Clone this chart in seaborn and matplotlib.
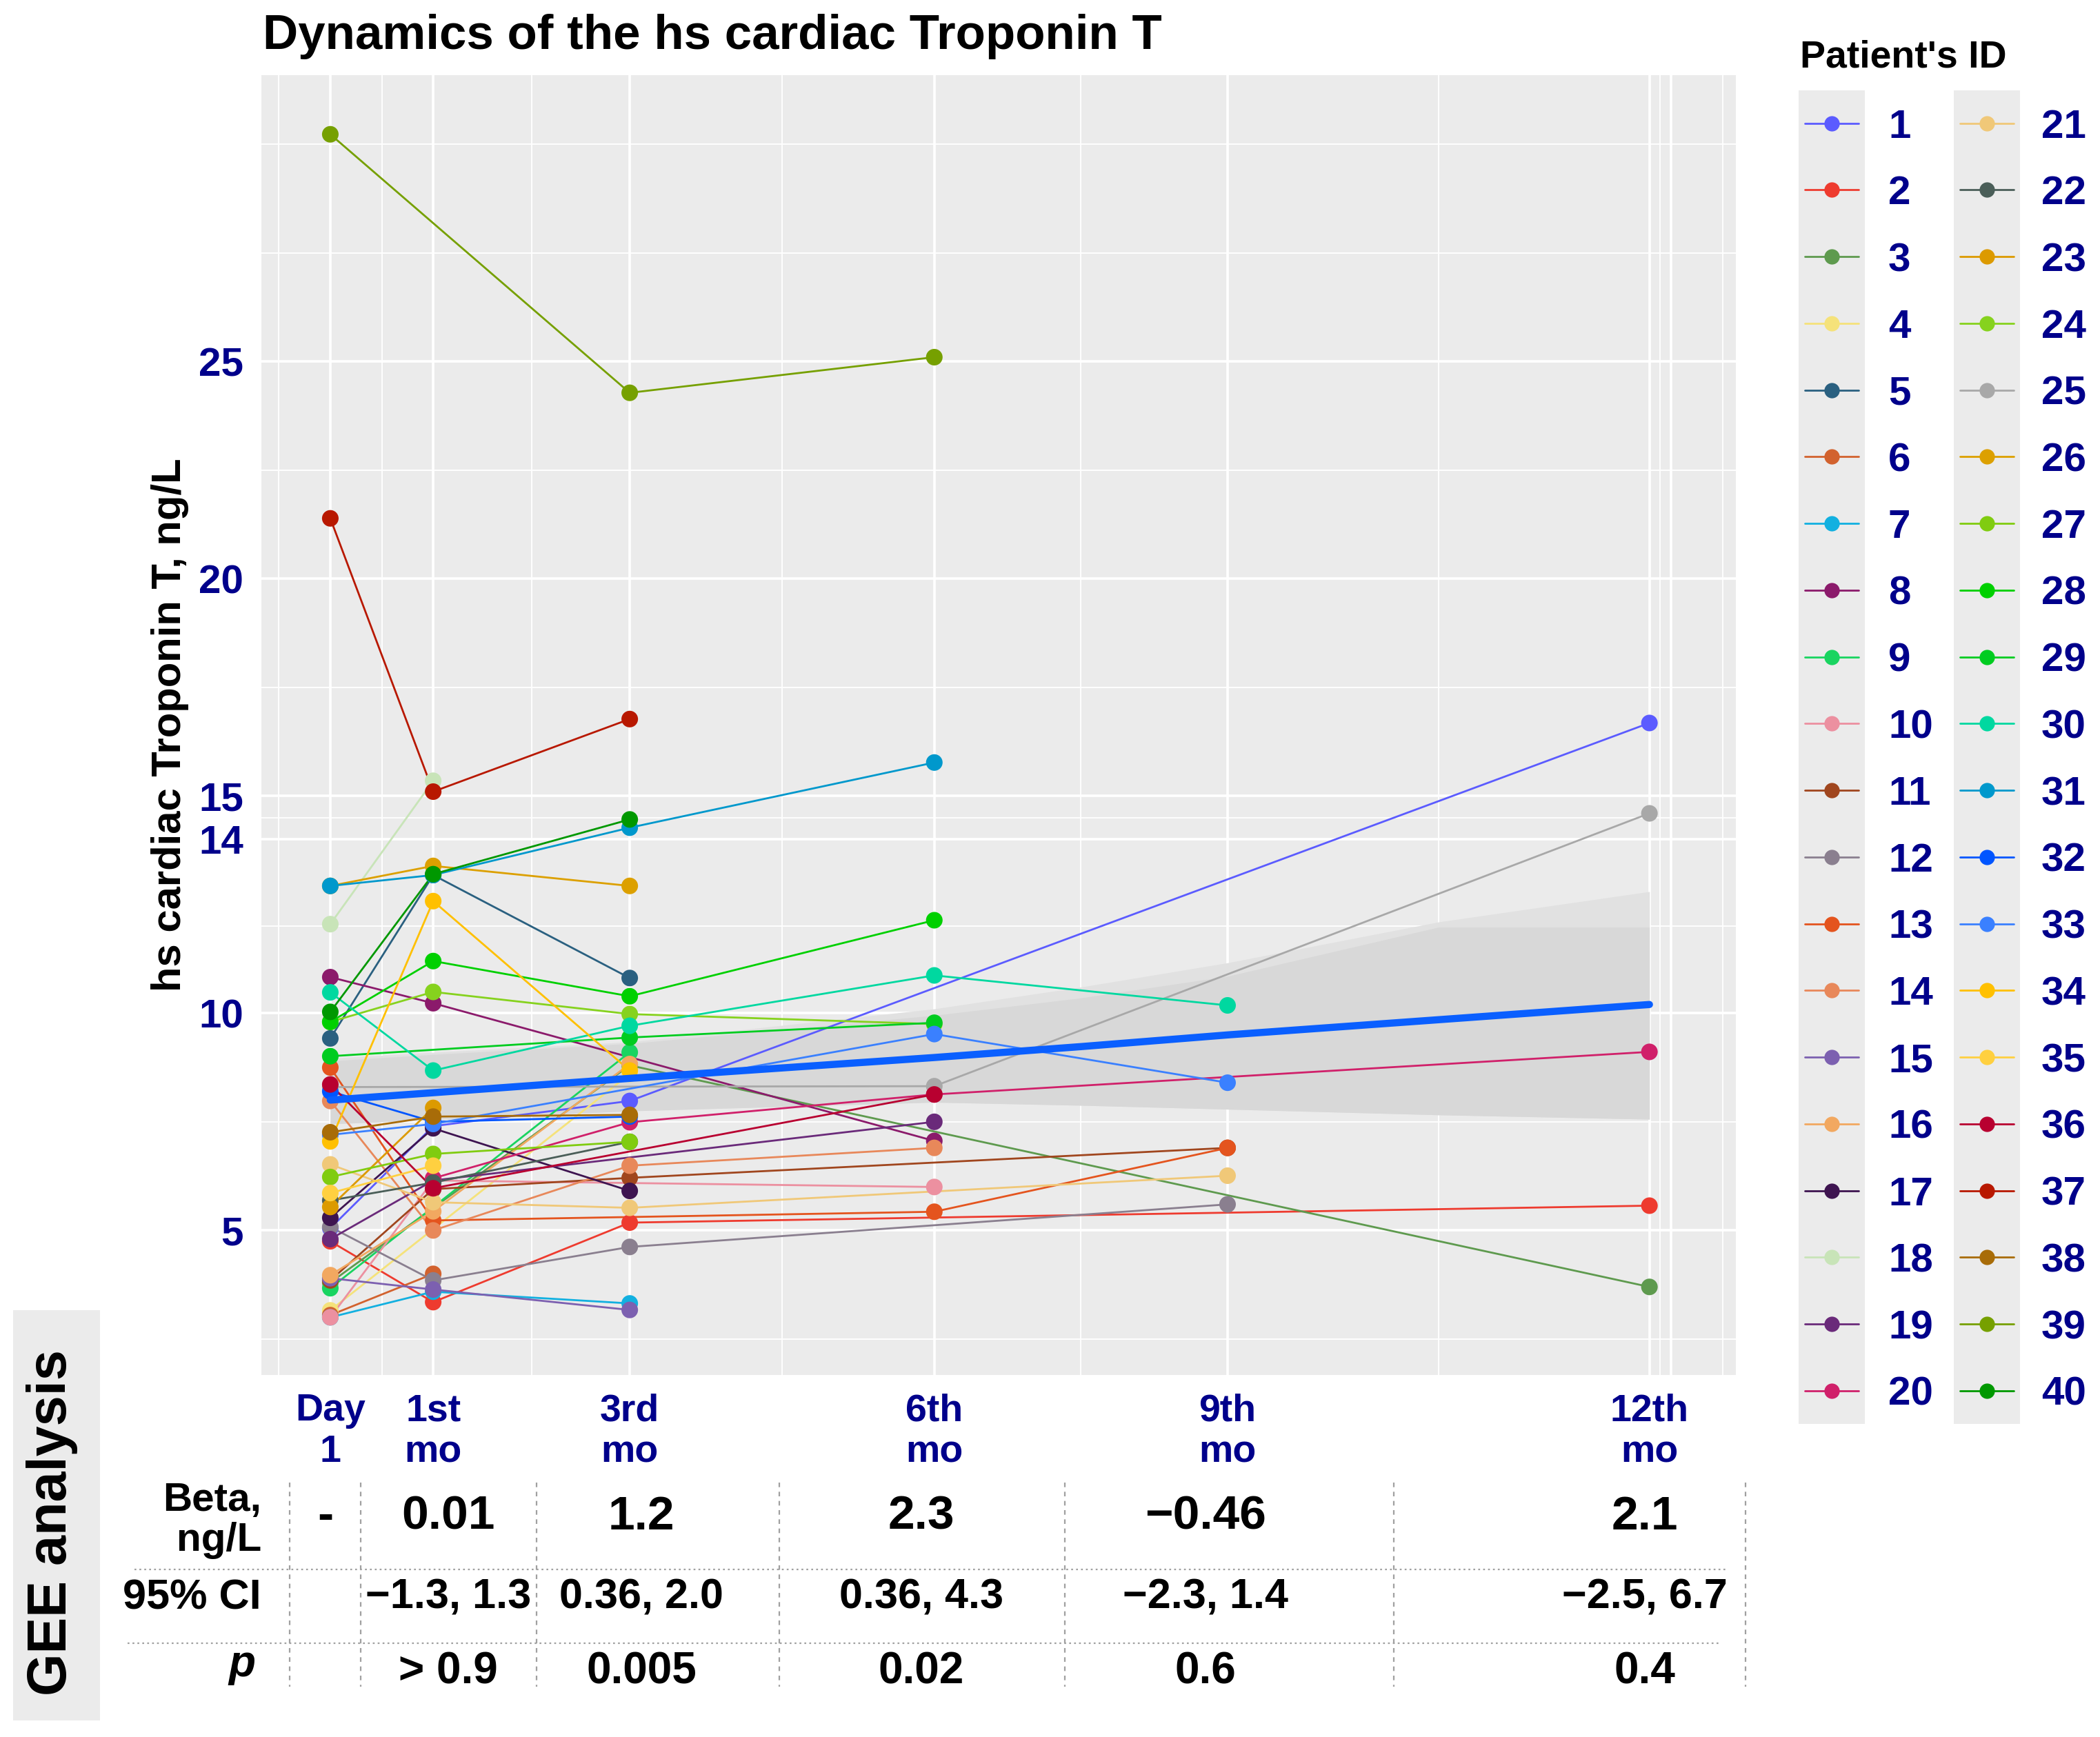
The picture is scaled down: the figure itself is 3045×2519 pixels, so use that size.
import numpy as np
import pandas as pd
import matplotlib.pyplot as plt
import seaborn as sns
from matplotlib.patches import Rectangle

nan = np.nan

# visits (x position = mean visit time in months, as drawn on the chart)
visit_labels = ["Day\n1", "1st\nmo", "3rd\nmo", "6th\nmo", "9th\nmo", "12th\nmo"]
visit_months = [0, 1, 2.91, 5.87, 8.72, 12.82]

patient_ids = list(range(1, 41))
patient_colors = [
    "#5B5BFF", "#EE3B2F", "#5E9A4E", "#F5E27A", "#2A6080", "#D2622E", "#12B0E0", "#8B1A6B", "#19D460", "#EC90A0",
    "#A0461E", "#8A7F8F", "#E4541E", "#E8885A", "#7C60B0", "#F2A860", "#3E1450", "#C8E4B8", "#6A2A7A", "#D0206A",
    "#F0C878", "#4A5E58", "#DC9A00", "#86D21E", "#A8A8A8", "#DCA000", "#80CC10", "#00D000", "#00CC20", "#00D8A0",
    "#0098CC", "#0055FF", "#3A80FF", "#FFC000", "#FFD040", "#B80030", "#B81800", "#A86C08", "#76A000", "#009800",
]

# hs cTnT, ng/L, per patient 1..40 at each visit
day1 = [5.05, 4.75, 3.80, 3.16, 9.42, 3.05, 3.00, 10.83, 3.67, 3.00,
        3.85, 5.08, 8.75, 7.98, 3.90, 3.97, 5.29, 12.05, 4.80, nan,
        6.52, 5.69, 5.54, 9.80, 8.30, 12.93, 6.23, 9.80, 9.01, 10.48,
        12.93, 8.20, 7.20, 7.05, 5.86, 8.36, 21.39, 7.26, 30.23, 10.03]
mo1 = [7.40, 3.35, nan, nan, 13.18, 4.00, 3.59, 10.23, nan, 6.15,
       5.95, 3.85, 5.23, 5.00, 3.64, 5.44, 7.35, 15.35, 6.15, 6.20,
       5.65, 6.10, 7.82, 10.49, nan, 13.39, 6.76, 11.20, nan, 8.68,
       13.18, 7.50, 7.45, 12.58, 6.49, 5.97, 15.10, 7.62, nan, 13.20]
mo3 = [7.98, 5.18, 8.80, 8.60, 10.81, nan, 3.32, nan, 9.10, nan,
       6.21, 4.62, nan, 6.49, 3.17, 8.83, 5.91, nan, nan, 7.49,
       5.52, 7.04, nan, 9.98, nan, 12.93, 7.04, 10.39, 9.44, 9.71,
       14.27, 7.62, nan, 8.68, nan, nan, 16.77, 7.66, 24.28, 14.46]
mo6 = [nan, nan, nan, nan, nan, nan, nan, 7.06, nan, 6.00,
       nan, nan, 5.43, 6.90, nan, nan, nan, nan, 7.50, 8.13,
       nan, nan, nan, 9.75, 8.32, nan, nan, 12.14, 9.78, 10.87,
       15.77, nan, 9.52, nan, nan, 8.13, nan, nan, 25.10, nan]
mo9 = [nan, nan, nan, nan, nan, nan, nan, nan, nan, nan,
       6.90, 5.60, 6.90, nan, nan, nan, nan, nan, nan, nan,
       6.26, nan, nan, nan, nan, nan, nan, nan, nan, 10.18,
       nan, nan, 8.40, nan, nan, nan, nan, nan, nan, nan]
mo12 = [16.68, 5.57, 3.70, nan, nan, nan, nan, nan, nan, nan,
        nan, nan, nan, nan, nan, nan, nan, nan, nan, 9.11,
        nan, nan, nan, nan, 14.60, nan, nan, nan, nan, nan,
        nan, nan, nan, nan, nan, nan, nan, nan, nan, nan]

# GEE trend line and its ribbon
trend_months = [0, 1, 2.91, 5.87, 7.29, 8.72, 10.77, 12.82]
trend_fit = [8.0, 8.17, 8.5, 8.98, 9.23, 9.5, 9.85, 10.2]
ci_upper = [8.96, 9.1, 9.34, 10.1, 10.6, 11.16, 12.1, 12.8]
ci_upper_inner = [8.9, 9.05, 9.3, 9.95, 10.35, 10.85, 11.98, 11.98]
ci_lower = [7.45, 7.55, 7.75, 7.95, 7.88, 7.79, 7.66, 7.56]

# GEE table
gee_beta = ["-", "0.01", "1.2", "2.3", "\u22120.46", "2.1"]
gee_ci = ["", "\u22121.3, 1.3", "0.36, 2.0", "0.36, 4.3", "\u22122.3, 1.4", "\u22122.5, 6.7"]
gee_p = ["", "> 0.9", "0.005", "0.02", "0.6", "0.4"]

navy = "#00008B"

rows = []
for month, vals in zip(visit_months, [day1, mo1, mo3, mo6, mo9, mo12]):
    for pid, v in zip(patient_ids, vals):
        rows.append((pid, month, v))
df = pd.DataFrame(rows, columns=["patient", "month", "tnt"]).dropna()
palette = dict(zip(patient_ids, patient_colors))

sns.set_style("darkgrid", {"axes.facecolor": "#EBEBEB", "grid.color": "white"})
plt.rcParams["font.family"] = ["Liberation Sans", "DejaVu Sans"]
plt.rcParams["text.color"] = "black"
plt.rcParams["axes.labelcolor"] = "black"

fig = plt.figure(figsize=(30.45, 25.19), dpi=100)
ax = fig.add_axes([0.1246, 0.2085, 0.702, 0.7482])

ax.fill_between(trend_months, ci_lower, ci_upper, color="#E1E1E1", lw=0, zorder=1)
ax.fill_between(trend_months, ci_lower, ci_upper_inner, color="#D8D8D8", lw=0, zorder=1)
sns.lineplot(data=df, x="month", y="tnt", hue="patient", palette=palette,
             estimator=None, lw=2.0, legend=False, ax=ax, zorder=2)
sns.scatterplot(data=df, x="month", y="tnt", hue="patient", palette=palette,
                s=300, linewidth=0, legend=False, ax=ax, zorder=3)
sns.lineplot(x=trend_months, y=trend_fit, color="#0A5FFF", lw=7.5, ax=ax, zorder=4)

ax.set_xlim(-0.667, 13.66)
ax.set_ylim(1.676, 31.59)
ax.set_xticks(visit_months + [13.03])
ax.set_xticklabels(visit_labels + [""])
ax.set_xticks([-0.5, 0.5, 1.955, 4.39, 7.295, 10.77, 12.925, 13.53], minor=True)
ax.set_yticks([5, 10, 14, 15, 20, 25])
ax.set_yticks([2.5, 7.5, 12, 14.5, 17.5, 22.5, 27.5, 30], minor=True)
ax.grid(which="major", color="white", lw=2.6)
ax.grid(which="minor", color="white", lw=1.3)
ax.tick_params(which="major", length=10, width=1.6, color="#333333", pad=9, labelcolor=navy)
ax.tick_params(which="minor", length=0)
ax.tick_params(axis="x", labelsize=40)
ax.tick_params(axis="y", labelsize=42)
for lab in ax.get_xticklabels() + ax.get_yticklabels():
    lab.set_fontweight("bold")
for s in ax.spines.values():
    s.set_visible(False)
ax.set_xlabel("")
ax.set_ylabel("hs cardiac Troponin T, ng/L", fontsize=43, fontweight="bold", labelpad=10, color="black")

fig.text(381 / 3045, 1 - 71.4 / 2519, "Dynamics of the hs cardiac Troponin T",
         fontsize=51, fontweight="bold", ha="left", va="baseline", color="black")

# overlay in pixel coordinates for legend and table
over = fig.add_axes([0, 0, 1, 1])
over.set_xlim(0, 3045)
over.set_ylim(2519, 0)
over.axis("off")

# legend
over.text(2610, 97, "Patient's ID", fontsize=40, fontweight="bold", ha="left", va="baseline")
for x0 in (2608, 2833):
    over.add_patch(Rectangle((x0, 130.5), 96, 1934, color="#EBEBEB", lw=0))
for i, (pid, col) in enumerate(zip(patient_ids, patient_colors)):
    column, row = divmod(i, 20)
    y = 178.7 + row * 96.75
    xm = (2656, 2881)[column]
    over.plot([xm - 39, xm + 39], [y, y], color=col, lw=2)
    over.plot(xm, y, "o", color=col, ms=16, mew=0)
    over.text((2738, 2960)[column], y, str(pid), fontsize=42, fontweight="bold",
              color=navy, ha="left", va="center_baseline")

# GEE table
over.add_patch(Rectangle((19, 1900), 126, 595, color="#EBEBEB", lw=0))
over.text(76, 2208, "GEE analysis", rotation=90, fontsize=57, fontweight="bold",
          ha="center", va="center")
over.text(379, 2205, "Beta,\nng/L", fontsize=42, fontweight="bold", ha="right",
          va="center", multialignment="right", linespacing=1.1)
over.text(379, 2333, "95% CI", fontsize=44, fontweight="bold", ha="right", va="baseline")
over.text(370, 2431, "p", fontsize=46, fontweight="bold", style="italic", ha="right", va="baseline")

col_x = [472, 650, 930, 1336, 1748, 2385]
for x, b, c, p in zip(col_x, gee_beta, gee_ci, gee_p):
    over.text(x, 2218, b, fontsize=50, fontweight="bold", ha="center", va="baseline")
    over.text(x, 2333, c, fontsize=44, fontweight="bold", ha="center", va="baseline")
    over.text(x, 2441, p, fontsize=46, fontweight="bold", ha="center", va="baseline")

over.plot([194.5, 2502], [2275.7, 2275.7], color="#A0A0A0", lw=1.6, ls=(0, (1.2, 2)))
over.plot([185, 2494], [2382.7, 2382.7], color="#A0A0A0", lw=1.6, ls=(0, (1.2, 2)))
for x in [419.6, 523, 778, 1130, 1543.9, 2021.4, 2531]:
    over.plot([x, x], [2149.7, 2446.4], color="#A0A0A0", lw=1.6, ls=(0, (3, 3)))

fig.savefig("out.png", dpi=100)
